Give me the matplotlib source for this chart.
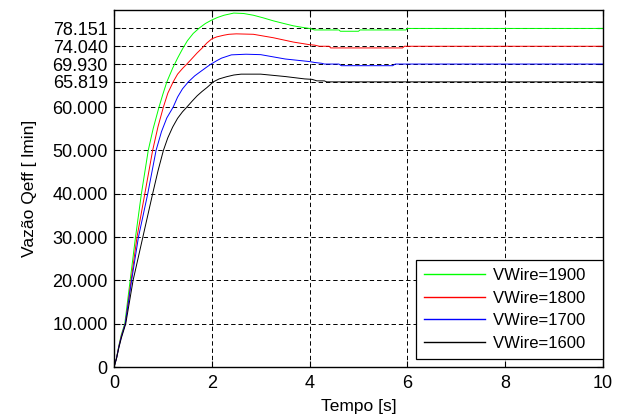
import numpy as np
import matplotlib
matplotlib.use("Agg")
import matplotlib.pyplot as plt

plt.rcParams['font.family'] = ['Liberation Sans', 'DejaVu Sans']

# leituras do gráfico (tempo em s, vazão)
t_1900 = [0, 0.05, 0.10, 0.15, 0.22, 0.33, 0.44, 0.56, 0.70, 0.80, 0.92, 1.00, 1.08, 1.20,
          1.30, 1.40, 1.50, 1.62, 1.75, 1.87, 2.00, 2.12, 2.25, 2.45, 2.65, 2.85, 3.05,
          3.26, 3.47, 3.67, 3.85, 4.00, 4.10, 4.60, 4.63, 5.00, 5.03, 5.97, 6.00, 10]
q_1900 = [0, 2.0, 5.0, 7.5, 10, 20, 30, 40, 50, 55.0, 60, 63.0, 65.8, 69.0,
          71.3, 73.4, 75.3, 77.0, 78.3, 79.3, 80.1, 80.7, 81.2, 81.7, 81.6, 81.2, 80.6,
          79.9, 79.3, 78.75, 78.4, 78.15, 77.8, 77.8, 77.5, 77.5, 77.8, 77.8, 78.151, 78.151]

t_1800 = [0, 0.05, 0.10, 0.15, 0.23, 0.35, 0.47, 0.63, 0.79, 0.90, 1.01, 1.10, 1.21, 1.30,
          1.40, 1.49, 1.57, 1.70, 1.80, 1.90, 2.00, 2.10, 2.25, 2.35, 2.50, 2.85, 3.26,
          3.67, 4.00, 4.10, 4.20, 4.40, 4.43, 5.90, 5.94, 10]
q_1800 = [0, 2.0, 4.8, 7.2, 10, 20, 30, 40, 50, 55.5, 60, 63.2, 65.819, 67.6,
          68.9, 69.93, 70.9, 72.5, 73.6, 74.8, 75.75, 76.2, 76.6, 76.8, 76.9, 76.8, 76.0,
          75.0, 74.4, 74.3, 74.04, 74.04, 73.65, 73.65, 74.04, 74.04]

t_1700 = [0, 0.05, 0.10, 0.15, 0.23, 0.36, 0.50, 0.69, 0.86, 0.97, 1.08, 1.21, 1.30, 1.40,
          1.52, 1.65, 1.77, 1.88, 1.98, 2.10, 2.20, 2.40, 2.70, 3.00, 3.50, 4.00, 4.10,
          4.25, 4.30, 4.60, 4.65, 5.70, 5.75, 10]
q_1700 = [0, 2.0, 4.7, 7.0, 10, 20, 30, 40, 50, 54.3, 57.5, 60, 62.3, 64.2,
          65.819, 67.2, 68.2, 69.1, 69.9, 70.7, 71.3, 72.05, 72.2, 72.1, 71.1, 70.5, 70.3,
          70.1, 69.93, 69.93, 69.55, 69.55, 69.93, 69.93]

t_1600 = [0, 0.05, 0.10, 0.15, 0.24, 0.39, 0.59, 0.79, 0.90, 1.01, 1.10, 1.20, 1.30, 1.40,
          1.49, 1.60, 1.70, 1.80, 1.90, 1.96, 2.03, 2.15, 2.30, 2.45, 2.60, 3.00, 3.50,
          3.90, 4.05, 4.15, 4.30, 4.35, 10]
q_1600 = [0, 1.9, 4.5, 6.7, 10, 20, 30, 40, 45.3, 50, 52.9, 55.4, 57.4, 58.9,
          60, 61.4, 62.6, 63.6, 64.5, 65.1, 65.819, 66.5, 67.0, 67.4, 67.6, 67.6, 67.05,
          66.5, 66.4, 66.05, 66.05, 65.819, 65.819]

yticks = [0, 10, 20, 30, 40, 50, 60, 65.819, 69.93, 74.04, 78.151]
ytick_labels = ['0', '10.000', '20.000', '30.000', '40.000', '50.000', '60.000',
                '65.819', '69.930', '74.040', '78.151']

fig = plt.figure(figsize=(6.21, 4.18), dpi=100)
ax = fig.add_axes([0.1836, 0.122, 0.7874, 0.854])

ax.plot(t_1900, q_1900, color=(0, 1, 0), lw=0.7, label='VWire=1900  ')
ax.plot(t_1800, q_1800, color=(1, 0, 0), lw=0.7, label='VWire=1800  ')
ax.plot(t_1700, q_1700, color=(0, 0, 1), lw=0.7, label='VWire=1700  ')
ax.plot(t_1600, q_1600, color='k', lw=0.7, label='VWire=1600  ')

ax.set_xlim(0, 10)
ax.set_ylim(0, 82.4)
ax.set_xticks([0, 2, 4, 6, 8, 10])
ax.set_yticks(yticks)
ax.set_yticklabels(ytick_labels)
ax.tick_params(direction='in', top=True, right=True, labelsize=13, length=4, width=0.8)
ax.tick_params(axis='x', pad=5.5)
ax.tick_params(axis='y', pad=4.5)
ax.grid(True, color='k', linestyle=(0, (4.5, 3)), linewidth=0.7)
for s in ax.spines.values():
    s.set_linewidth(1.0)

ax.set_xlabel('Tempo [s]', fontsize=12.5, labelpad=5)
ax.set_ylabel('Vazão Qeff [ lmin]', fontsize=12.5, labelpad=11)

leg = ax.legend(loc='lower right', bbox_to_anchor=(1.0, 0.022), fontsize=12,
                handlelength=3.65, labelspacing=0.45, borderaxespad=0, fancybox=False,
                framealpha=1, edgecolor='k', borderpad=0.5, handletextpad=0.5)
leg.get_frame().set_linewidth(0.9)
for h in leg.get_lines():
    h.set_linewidth(1.0)

plt.savefig('out.png', dpi=100)
